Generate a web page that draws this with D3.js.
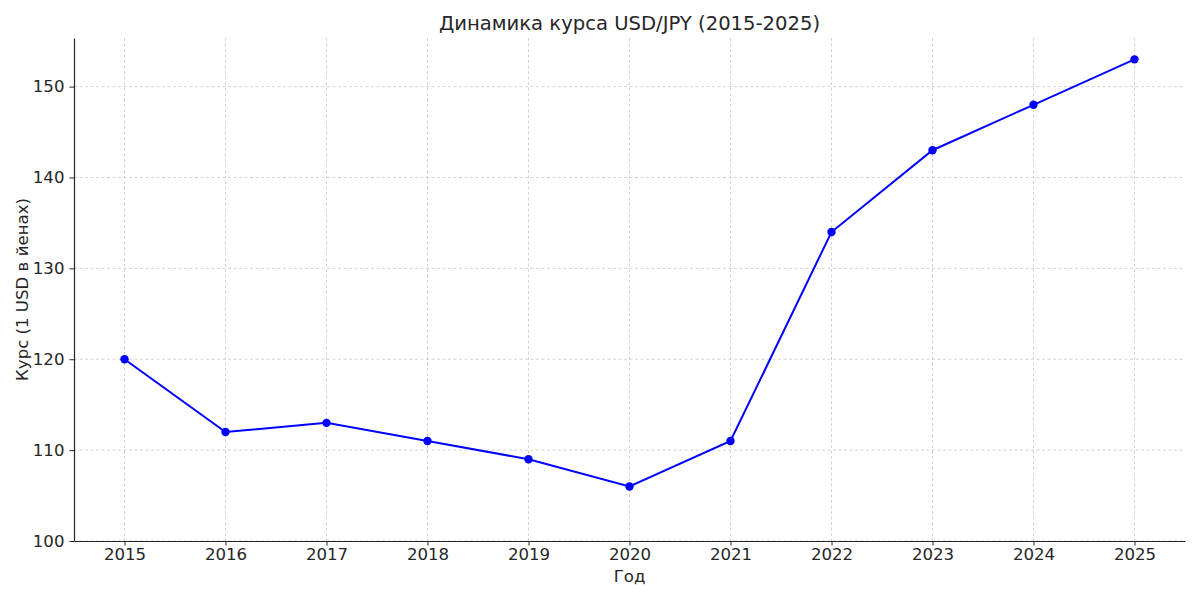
<!DOCTYPE html>
<html><head><meta charset="utf-8">
<script src="https://cdn.jsdelivr.net/npm/d3@7"></script>
<style>body{margin:0;background:#fff}svg text{font-family:"DejaVu Sans",sans-serif}</style>
</head><body><svg id="c" width="1200" height="600"></svg>
<script>
const years = [2015,2016,2017,2018,2019,2020,2021,2022,2023,2024,2025];
const rates = [120,112,113,111,109,106,111,134,143,148,153];
const yTicks = [100,110,120,130,140,150];
const title = "Динамика курса USD/JPY (2015-2025)";
const xLabel = "Год";
const yLabel = "Курс (1 USD в йенах)";

const svg = d3.select("#c");
const m = {l:74, r:1185, t:38, b:541};
const x = d3.scaleLinear().domain([2014.5, 2025.5]).range([m.l, m.r]);
const y = d3.scaleLinear().domain([100, 155.35]).range([m.b, m.t]);
const txt = "#262626";

// grid
const g = svg.append("g");
g.selectAll(".vg").data(years).join("line")
  .attr("x1", d=>x(d)).attr("x2", d=>x(d)).attr("y1", m.t).attr("y2", m.b)
  .attr("stroke", "#c8c8c8").attr("stroke-width", 0.8).attr("stroke-dasharray", "3,2.5");
g.selectAll(".hg").data(yTicks).join("line")
  .attr("x1", m.l).attr("x2", m.r).attr("y1", d=>y(d)).attr("y2", d=>y(d))
  .attr("stroke", "#c8c8c8").attr("stroke-width", 0.8).attr("stroke-dasharray", "3,2.5");

// axes
const xa = svg.append("g").attr("transform", `translate(0,${m.b})`)
  .call(d3.axisBottom(x).tickValues(years).tickFormat(d3.format("d")).tickSize(4.5).tickSizeOuter(0).tickPadding(4));
const ya = svg.append("g").attr("transform", `translate(${m.l},0)`)
  .call(d3.axisLeft(y).tickValues(yTicks).tickSize(4.5).tickSizeOuter(0).tickPadding(5));
[xa, ya].forEach(a => {
  a.attr("font-family", "DejaVu Sans");
  a.select(".domain").attr("stroke", txt).attr("stroke-width", 1.2);
  a.selectAll(".tick line").attr("stroke", txt).attr("stroke-width", 1);
  a.selectAll(".tick text").attr("fill", txt).attr("font-size", 16.6);
});
xa.selectAll(".tick text").attr("dy", "0.62em");

// line
const line = d3.line().x((d,i)=>x(years[i])).y(d=>y(d));
svg.append("path").datum(rates).attr("d", line)
  .attr("fill", "none").attr("stroke", "#0000ff").attr("stroke-width", 2);
svg.selectAll(".pt").data(rates).join("circle")
  .attr("cx", (d,i)=>x(years[i])).attr("cy", d=>y(d)).attr("r", 4.2).attr("fill", "#0000ff");

// labels
svg.append("text").attr("x", (m.l+m.r)/2).attr("y", 30).attr("text-anchor", "middle")
  .attr("font-size", 19.6).attr("fill", txt).text(title);
svg.append("text").attr("x", (m.l+m.r)/2).attr("y", 582).attr("text-anchor", "middle")
  .attr("font-size", 16.6).attr("fill", txt).text(xLabel);
svg.append("text").attr("transform", `translate(28,${(m.t+m.b)/2}) rotate(-90)`).attr("text-anchor", "middle")
  .attr("font-size", 16.6).attr("fill", txt).text(yLabel);
</script></body></html>
